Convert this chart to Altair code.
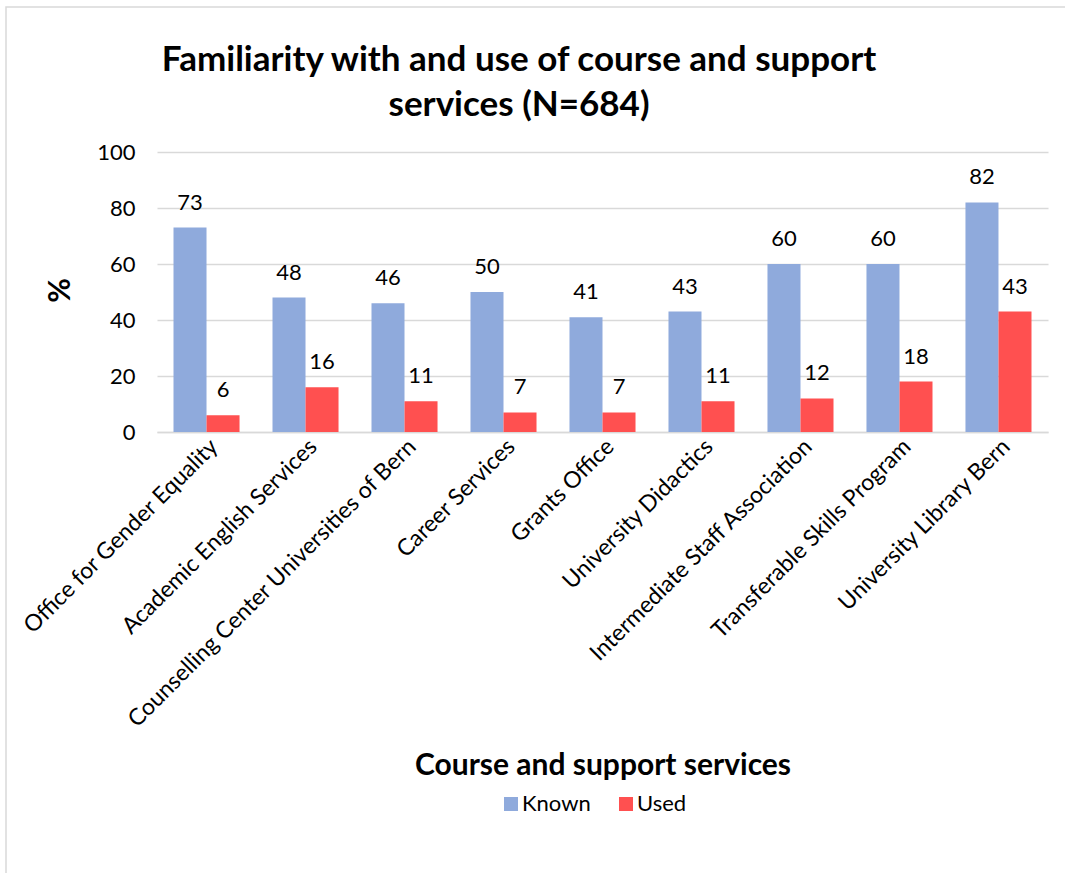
import altair as alt
import pandas as pd

categories = [
    "Office for Gender Equality",
    "Academic English Services",
    "Counselling Center Universities of Bern",
    "Career Services",
    "Grants Office",
    "University Didactics",
    "Intermediate Staff Association",
    "Transferable Skills Program",
    "University Library Bern",
]
known = [73, 48, 46, 50, 41, 43, 60, 60, 82]
used = [6, 16, 11, 7, 7, 11, 12, 18, 43]
series = ["Known", "Used"]
colors = ["#8FAADC", "#FF5050"]
title_lines = ["Familiarity with and use of course and support", "services (N=684)"]

rows = []
for c, k, u in zip(categories, known, used):
    rows.append({"cat": c, "series": "Known", "val": k})
    rows.append({"cat": c, "series": "Used", "val": u})
df = pd.DataFrame(rows)

FONT = "Lato"
W, H = 891, 280
LEFT, TOP = 157, 152
FS = 22

x_enc = alt.X(
    "cat:N",
    sort=categories,
    scale=alt.Scale(paddingInner=0.333, paddingOuter=0.1667),
    axis=alt.Axis(
        title="Course and support services",
        labelAngle=-45,
        labelAlign="right",
        labelBaseline="top",
        labelFontSize=23,
        labelColor="#000000",
        labelPadding=3,
        ticks=False,
        domainColor="#d9d9d9",
        domainWidth=1.5,
        titleFontSize=30,
        titleFontWeight="bold",
        titleColor="#000000",
        titleY=333,
        titleBaseline="middle",
        labelLimit=600,
    ),
)
y_enc = alt.Y(
    "val:Q",
    scale=alt.Scale(domain=[0, 100]),
    axis=alt.Axis(
        title="%",
        values=[0, 20, 40, 60, 80, 100],
        labelFontSize=FS,
        labelColor="#000000",
        labelPadding=22,
        ticks=False,
        domain=False,
        gridColor="#d9d9d9",
        gridWidth=1.5,
        titleFontSize=30,
        titleFontWeight="bold",
        titleColor="#000000",
        titleAngle=270,
        titleX=-97,
        titleY=138,
        titleAlign="center",
        titleBaseline="middle",
    ),
)
color_enc = alt.Color(
    "series:N",
    scale=alt.Scale(domain=series, range=colors),
    legend=alt.Legend(
        title=None,
        orient="none",
        direction="horizontal",
        legendX=343,
        legendY=641,
        symbolType="square",
        symbolSize=196,
        symbolStrokeWidth=0,
        labelFontSize=FS,
        labelColor="#000000",
        columnPadding=24,
        symbolOffset=0,
        labelOffset=0,
    ),
)

base = alt.Chart(df)
bars = base.mark_bar().encode(
    x=x_enc,
    xOffset=alt.XOffset("series:N", sort=series),
    y=y_enc,
    color=color_enc,
)
labels = base.mark_text(fontSize=FS, baseline="alphabetic", dy=-18, color="#000000", font=FONT).encode(
    x=alt.X("cat:N", sort=categories),
    xOffset=alt.XOffset("series:N", sort=series),
    y="val:Q",
    text="val:Q",
)
frame = alt.Chart(alt.Data(values=[{"a": 1}])).mark_rect(
    fill=None, stroke="#d9d9d9", strokeWidth=1.5
).encode(
    x=alt.value(6 - LEFT),
    x2=alt.value(1100 - LEFT),
    y=alt.value(7 - TOP),
    y2=alt.value(950 - TOP),
)
title = alt.Chart(alt.Data(values=[{"a": 1}])).mark_text(
    fontSize=35, fontWeight="bold", font=FONT, color="#000000",
    align="center", baseline="alphabetic", lineHeight=45,
).encode(
    x=alt.value(519 - LEFT),
    y=alt.value(71 - TOP),
    text=alt.value(title_lines),
)

chart = (
    alt.layer(frame, bars, labels, title)
    .properties(
        width=W,
        height=H,
        autosize=alt.AutoSizeParams(type="none"),
        padding={"left": LEFT, "top": TOP, "right": 1065 - LEFT - W, "bottom": 873 - TOP - H},
        background="white",
    )
    .configure_view(stroke=None)
    .configure_axis(labelFont=FONT, titleFont=FONT)
    .configure_legend(labelFont=FONT)
)

chart.save("out.html", embed_options={"renderer": "svg", "actions": False})
